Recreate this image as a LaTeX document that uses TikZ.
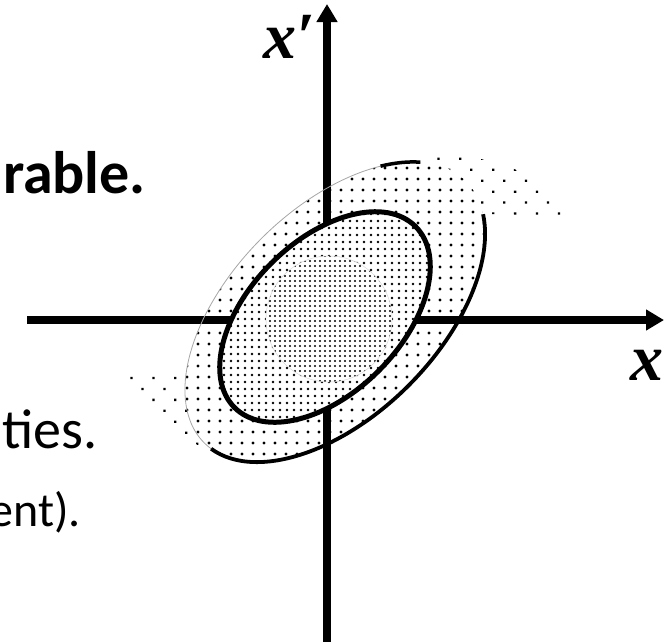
\documentclass[tikz,border=0pt]{standalone}
\usepackage{fontspec}
\setmainfont{Carlito}
\newfontfamily\lsfont{Liberation Serif}
\usetikzlibrary{arrows.meta,patterns.meta}
\begin{document}
\begin{tikzpicture}[x=1pt,y=1pt,
  axis/.style={line width=7.5pt,-{Triangle[width=20pt,length=18pt]}},
  tailpat/.style={pattern={Dots[distance=15.5pt,angle=45,radius=1.6pt]}},
  bandpat/.style={pattern={Dots[distance=11pt,radius=1.6pt]}},
  midpat/.style={pattern={Dots[distance=7pt,radius=1.4pt]}},
  densepat/.style={pattern={Dots[distance=5pt,radius=1.2pt]}},
  outrot/.style={rotate around={45:(335,-312)}},
  inrot/.style={rotate around={45:(325,-317)}},
  slidetxt/.style={inner sep=0pt,anchor=base east},
  axlabel/.style={inner sep=0pt,anchor=base west,font=\lsfont\bfseries\itshape\fontsize{66}{70}\selectfont}]
\useasboundingbox (0,0) rectangle (664,-641);
\clip (0,0) rectangle (664,-641);

% slide text fragments
\node[slidetxt,font=\bfseries\fontsize{60}{72}\selectfont] (t1) at (146,-193) {rable.};
\node[slidetxt,font=\fontsize{56}{66}\selectfont] (t2) at (98,-448) {ties.};
\node[slidetxt,font=\fontsize{48}{56}\selectfont] (t3) at (81,-526) {ent).};

% tails
\fill[tailpat] (405,-180) -- (425,-158) .. controls (470,-150) and (545,-165) .. (571,-221)
  .. controls (545,-214) and (500,-214) .. (478,-214) -- (460,-240) -- cycle;
\fill[tailpat] (230,-380) -- (190,-368) .. controls (160,-370) and (130,-371) .. (111,-374)
  .. controls (150,-400) and (175,-445) .. (240,-463) -- (250,-430) -- cycle;

% outer ellipse background
\fill[white,outrot] (335,-312) ellipse [x radius=185, y radius=104];

% axes
\coordinate (vb) at (327,-645);
\coordinate (vt) at (327,-4);
\coordinate (hl) at (27,-320);
\coordinate (hr) at (664,-320);
\draw[axis] (vb) -- (vt);
\draw[axis] (hl) -- (hr);

% band dots
\fill[bandpat,outrot] (335,-312) ellipse [x radius=185, y radius=104];

% inner ellipse
\fill[white,inrot] (325,-317) ellipse [x radius=128, y radius=76];
\fill[midpat,inrot] (325,-317) ellipse [x radius=128, y radius=76];

% dense core
\fill[white] (329,-319) circle [radius=63];
\fill[densepat] (329,-319) circle [radius=63];
\draw[gray!35,line width=0.4pt] (329,-319) circle [radius=63];

% outer outlines
\draw[gray!70,line width=0.8pt,outrot] ([shift={(26:185 and 104)}]335,-312)
  arc[start angle=26,end angle=185,x radius=185,y radius=104];
\draw[black,line width=3.8pt,outrot] ([shift={(-175:185 and 104)}]335,-312)
  arc[start angle=-175,end angle=-20,x radius=185,y radius=104];
\draw[black,line width=3.5pt,outrot] ([shift={(26:185 and 104)}]335,-312)
  arc[start angle=26,end angle=43,x radius=185,y radius=104];

% inner thick outline
\draw[line width=5pt,inrot] (325,-317) ellipse [x radius=128, y radius=76];

% axis labels
\node[axlabel] (lxp) at (263,-58) {x′};
\node[axlabel] (lx) at (630,-380) {x};
\end{tikzpicture}
\end{document}
